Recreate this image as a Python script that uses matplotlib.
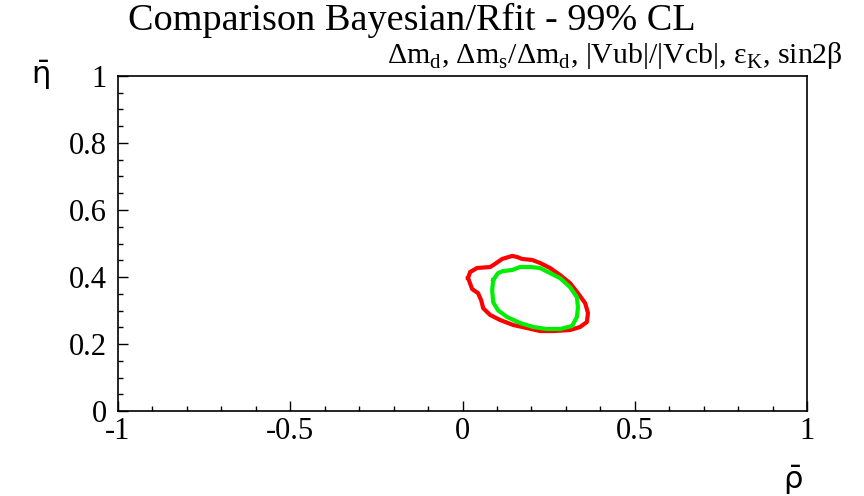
"""Bayesian vs Rfit 99% CL contours in the (rho-bar, eta-bar) plane."""

import matplotlib

matplotlib.use("Agg")

import matplotlib.pyplot as plt
from matplotlib.ticker import MultipleLocator

# 99% CL contour (rho_bar, eta_bar)
RFIT_RHO = [0.016, 0.022, 0.042, 0.080, 0.094, 0.115, 0.144, 0.158, 0.173, 0.202,
            0.225, 0.254, 0.283, 0.312, 0.335, 0.356, 0.364, 0.361, 0.341, 0.312,
            0.263, 0.225, 0.187, 0.147, 0.109, 0.080, 0.060, 0.054, 0.045, 0.028,
            0.016]
RFIT_ETA = [0.397, 0.415, 0.427, 0.430, 0.439, 0.454, 0.463, 0.460, 0.454, 0.451,
            0.442, 0.427, 0.406, 0.382, 0.352, 0.322, 0.293, 0.266, 0.251, 0.242,
            0.239, 0.239, 0.248, 0.257, 0.272, 0.287, 0.307, 0.331, 0.352, 0.364,
            0.397]

BAYES_RHO = [0.089, 0.103, 0.118, 0.144, 0.167, 0.196, 0.225, 0.254, 0.283, 0.312,
             0.332, 0.335, 0.332, 0.318, 0.283, 0.245, 0.205, 0.167, 0.129, 0.103,
             0.089, 0.086, 0.089]
BAYES_ETA = [0.391, 0.412, 0.418, 0.421, 0.430, 0.430, 0.427, 0.412, 0.397, 0.370,
             0.340, 0.310, 0.281, 0.254, 0.245, 0.245, 0.251, 0.263, 0.281, 0.301,
             0.325, 0.361, 0.391]

TITLE = "Comparison Bayesian/Rfit - 99% CL"
SUBTITLE = ("Δm$_\\mathrm{d}$, Δm$_\\mathrm{s}$/Δm$_\\mathrm{d}$, "
            "|Vub|/|Vcb|, ε$_\\mathrm{K}$, sin2β")

plt.rcParams["font.family"] = ["Liberation Serif", "DejaVu Serif"]
plt.rcParams["mathtext.fontset"] = "custom"
plt.rcParams["mathtext.rm"] = "Liberation Serif"

fig = plt.figure(figsize=(8.64, 4.96), dpi=100)
ax = fig.add_axes([0.1366, 0.171, 0.7975, 0.676])

ax.plot(RFIT_RHO, RFIT_ETA, color="#ff0000", lw=3.0, solid_joinstyle="round")
ax.plot(BAYES_RHO, BAYES_ETA, color="#00ee00", lw=3.0, solid_joinstyle="round")

ax.set_xlim(-1, 1)
ax.set_ylim(0, 1)
ax.xaxis.set_major_locator(MultipleLocator(0.5))
ax.xaxis.set_minor_locator(MultipleLocator(0.1))
ax.yaxis.set_major_locator(MultipleLocator(0.2))
ax.yaxis.set_minor_locator(MultipleLocator(0.05))
ax.xaxis.set_major_formatter(plt.FuncFormatter(lambda v, _: f"{v:g}"))
ax.yaxis.set_major_formatter(plt.FuncFormatter(lambda v, _: f"{v:g}"))
ax.tick_params(which="both", direction="in", top=False, right=False,
               width=1.0, labelsize=22)
ax.tick_params(which="major", length=7)
ax.tick_params(which="minor", length=3.6)
ax.tick_params(axis="x", pad=4)
ax.tick_params(axis="y", pad=8)
for spine in ax.spines.values():
    spine.set_linewidth(1.2)

fig.text(0.148, 0.94, TITLE, fontsize=27.5, ha="left", va="baseline")
fig.text(0.976, 0.873, SUBTITLE, fontsize=21.5, ha="right", va="baseline")

fig.text(0.047, 0.83, r"$\bar{\mathrm{\eta}}$", fontsize=22, ha="center",
         va="baseline", math_fontfamily="dejavusans")
fig.text(0.918, 0.015, r"$\bar{\mathrm{\rho}}$", fontsize=22, ha="center",
         va="baseline", math_fontfamily="dejavusans")

fig.savefig("out.png", dpi=100)
